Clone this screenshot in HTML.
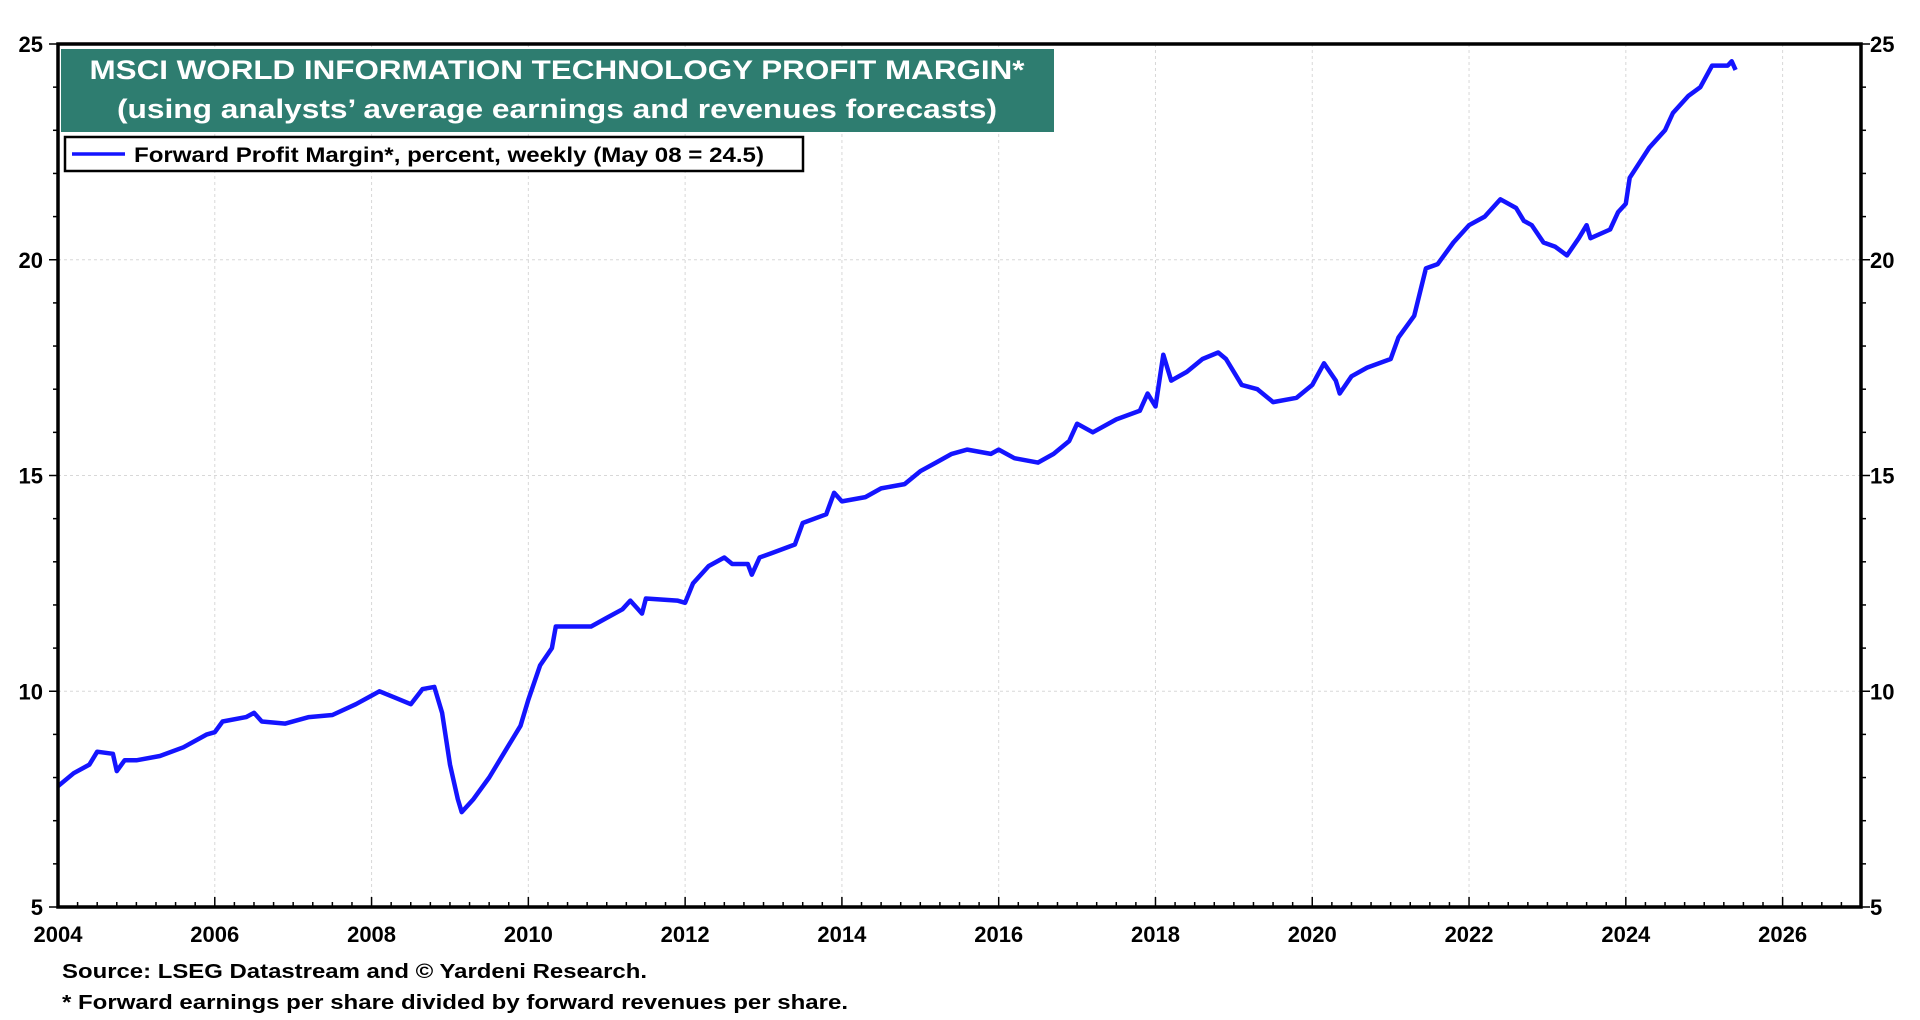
<!DOCTYPE html>
<html><head><meta charset="utf-8"><style>
html,body{margin:0;padding:0;background:#fff;}
svg{display:block;font-family:"Liberation Sans",Arial,sans-serif;font-weight:bold;}
</style></head><body>
<svg id="chart" width="1920" height="1020" viewBox="0 0 1920 1020" xmlns="http://www.w3.org/2000/svg">
<g id="grid"></g>
<g id="series"></g>
<rect x="58" y="44" width="1803" height="863" fill="none" stroke="#000" stroke-width="3.5"/>
<g id="axes"></g>
<rect x="61" y="49" width="993" height="83" fill="#2e7d70"/>
<text x="557" y="79" text-anchor="middle" fill="#fff" font-size="27" textLength="935" lengthAdjust="spacingAndGlyphs">MSCI WORLD INFORMATION TECHNOLOGY PROFIT MARGIN*</text>
<text x="557" y="118" text-anchor="middle" fill="#fff" font-size="27" textLength="880" lengthAdjust="spacingAndGlyphs">(using analysts’ average earnings and revenues forecasts)</text>
<g>
<rect x="65" y="137" width="738" height="34" fill="#fff" stroke="#000" stroke-width="2.5"/>
<line x1="72" y1="154" x2="125" y2="154" stroke="#1414ff" stroke-width="3.5"/>
<text x="134" y="162" font-size="21" textLength="630" lengthAdjust="spacingAndGlyphs">Forward Profit Margin*, percent, weekly (May 08 = 24.5)</text>
</g>
<text x="62" y="978" font-size="20" textLength="585" lengthAdjust="spacingAndGlyphs">Source: LSEG Datastream and © Yardeni Research.</text>
<text x="62" y="1009" font-size="20" textLength="786" lengthAdjust="spacingAndGlyphs">* Forward earnings per share divided by forward revenues per share.</text>
</svg>
<script>
const dates=[2004.0,2004.2,2004.4,2004.5,2004.7,2004.75,2004.85,2005.0,2005.3,2005.6,2005.9,2006.0,2006.1,2006.4,2006.5,2006.6,2006.9,2007.2,2007.5,2007.8,2008.0,2008.1,2008.3,2008.5,2008.65,2008.8,2008.9,2009.0,2009.1,2009.15,2009.3,2009.5,2009.7,2009.9,2010.0,2010.15,2010.3,2010.35,2010.6,2010.8,2011.0,2011.2,2011.3,2011.45,2011.5,2011.9,2012.0,2012.1,2012.3,2012.5,2012.6,2012.8,2012.85,2012.95,2013.1,2013.4,2013.5,2013.8,2013.9,2014.0,2014.3,2014.5,2014.8,2015.0,2015.2,2015.4,2015.6,2015.9,2016.0,2016.2,2016.5,2016.7,2016.9,2017.0,2017.2,2017.5,2017.8,2017.9,2018.0,2018.1,2018.2,2018.4,2018.6,2018.8,2018.9,2019.1,2019.3,2019.5,2019.8,2020.0,2020.15,2020.3,2020.35,2020.5,2020.7,2021.0,2021.1,2021.3,2021.45,2021.6,2021.8,2022.0,2022.2,2022.4,2022.6,2022.7,2022.8,2022.95,2023.1,2023.25,2023.4,2023.5,2023.55,2023.8,2023.9,2024.0,2024.05,2024.3,2024.5,2024.6,2024.8,2024.95,2025.1,2025.3,2025.35,2025.4];
const margins=[7.8,8.1,8.3,8.6,8.55,8.15,8.4,8.4,8.5,8.7,9.0,9.05,9.3,9.4,9.5,9.3,9.25,9.4,9.45,9.7,9.9,10.0,9.85,9.7,10.05,10.1,9.5,8.3,7.5,7.2,7.5,8.0,8.6,9.2,9.8,10.6,11.0,11.5,11.5,11.5,11.7,11.9,12.1,11.8,12.15,12.1,12.05,12.5,12.9,13.1,12.95,12.95,12.7,13.1,13.2,13.4,13.9,14.1,14.6,14.4,14.5,14.7,14.8,15.1,15.3,15.5,15.6,15.5,15.6,15.4,15.3,15.5,15.8,16.2,16.0,16.3,16.5,16.9,16.6,17.8,17.2,17.4,17.7,17.85,17.7,17.1,17.0,16.7,16.8,17.1,17.6,17.2,16.9,17.3,17.5,17.7,18.2,18.7,19.8,19.9,20.4,20.8,21.0,21.4,21.2,20.9,20.8,20.4,20.3,20.1,20.5,20.8,20.5,20.7,21.1,21.3,21.9,22.6,23.0,23.4,23.8,24.0,24.5,24.5,24.6,24.4];
const xTickLabels=["2004","2006","2008","2010","2012","2014","2016","2018","2020","2022","2024","2026"];
const yTickLabels=["5","10","15","20","25"];
const NS="http://www.w3.org/2000/svg";
const X0=58,X1=1861,Y0=907,Y1=44;
function xs(t){return X0+(t-2004)/(2027-2004)*(X1-X0);}
function ys(v){return Y0-(v-5)/(25-5)*(Y0-Y1);}
function mk(tag,attrs,parent){const e=document.createElementNS(NS,tag);for(const k in attrs)e.setAttribute(k,attrs[k]);parent.appendChild(e);return e;}
const grid=document.getElementById('grid'),axes=document.getElementById('axes'),series=document.getElementById('series');
xTickLabels.forEach(l=>{const x=xs(+l);
 if(+l>2004){const g=mk('line',{x1:x,x2:x,y1:Y1,y2:Y0,stroke:'#d8d8d8','stroke-width':1,'stroke-dasharray':'3,3'},grid);
 
 }
 const t=mk('text',{x:x,y:942,'text-anchor':'middle','font-size':22},axes);t.textContent=l;
 
 
});
for(let q=2004;q<=2027.001;q+=0.25){const x=xs(q);const major=Math.abs(q%2)<0.01;
 const tk=mk('line',{x1:x,x2:x,y1:Y0,y2:Y0-(major?10:5),stroke:'#000','stroke-width':1.5},axes);
 
 }
yTickLabels.forEach(l=>{const y=ys(+l);
 if(+l>5&&+l<25){const g=mk('line',{x1:X0,x2:X1,y1:y,y2:y,stroke:'#d8d8d8','stroke-width':1,'stroke-dasharray':'3,3'},grid);
 
 }
 const a=mk('text',{x:43,y:y+8,'text-anchor':'end','font-size':22},axes);a.textContent=l;
 
 
 const b=mk('text',{x:1870,y:y+8,'font-size':22},axes);b.textContent=l;
 
 
});
for(let v=5;v<=25;v++){const y=ys(v);const L=v%5===0?9:5;
 const a=mk('line',{x1:X0-L,x2:X0,y1:y,y2:y,stroke:'#000','stroke-width':1.5},axes);
 
 
 const b=mk('line',{x1:X1,x2:X1+L,y1:y,y2:y,stroke:'#000','stroke-width':1.5},axes);
 
 }
const pts=dates.map((d,i)=>xs(d).toFixed(1)+','+ys(margins[i]).toFixed(1)).join(' ');
const line=mk('polyline',{points:pts,fill:'none',stroke:'#1414ff','stroke-width':4.5,'stroke-linejoin':'round'},series);


</script>
</body></html>
